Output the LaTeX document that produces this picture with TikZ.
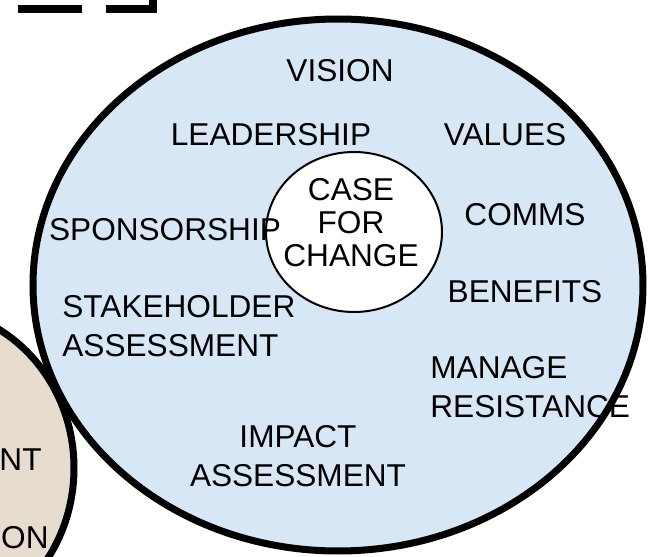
\documentclass[tikz,border=0pt]{standalone}
\usepackage{fontspec}
\setmainfont{Liberation Sans}
\definecolor{skyfill}{HTML}{D8E7F6}
\definecolor{sandfill}{HTML}{E6DDCF}
\tikzstyle{ring} = [draw=black, line width=3.5pt]
\tikzstyle{topic} = [inner sep=0pt, font=\fontsize{15.8}{19.5}\selectfont]
\tikzstyle{coretext} = [inner sep=0pt, align=center, font=\fontsize{15.8}{16.5}\selectfont]

\begin{document}
\begin{tikzpicture}[x=0.5pt, y=-0.5pt]
      \useasboundingbox (0,0) rectangle (650,557);
      \clip (0,0) rectangle (650,557);

      % frame cut off at the top left
      \draw[line width=4pt, dash pattern=on 32pt off 12pt] (153,-8) -- (153,9) -- (-60,9);

      % the two sets
      \draw[ring, fill=sandfill] (-76,468) ellipse [x radius=150, y radius=160];
      \draw[ring, fill=skyfill] (338,285) ellipse [x radius=305, y radius=266];
      \draw[line width=1pt, fill=white] (354,232) ellipse [x radius=88, y radius=80];

      \node[coretext] (case) at (351,223) {CASE\\FOR\\CHANGE};
      \node[topic] (vision) at (340,71) {VISION};
      \node[topic] (leadership) at (271,135) {LEADERSHIP};
      \node[topic] (values) at (505,135) {VALUES};
      \node[topic] (sponsorship) at (165,230) {SPONSORSHIP};
      \node[topic] (comms) at (525,215) {COMMS};
      \node[topic] (benefits) at (525,292) {BENEFITS};
      \node[topic, align=left, anchor=west] (stakeholder) at (62,326) {STAKEHOLDER\\ASSESSMENT};
      \node[topic, align=left, anchor=west] (resistance) at (430,387) {MANAGE\\RESISTANCE};
      \node[topic, align=center] (impact) at (298,456) {IMPACT\\ASSESSMENT};
      \node[topic, anchor=east] (nt) at (42,460) {NT};
      \node[topic, anchor=east] (on) at (49,538) {ON};
\end{tikzpicture}
\end{document}
